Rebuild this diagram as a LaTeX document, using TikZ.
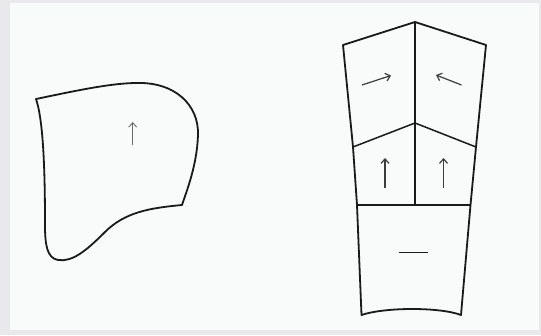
\documentclass[tikz,border=0pt]{standalone}
\usepackage{tikz}
\usetikzlibrary{arrows.meta}
\usepackage{xcolor}

\definecolor{frame}{HTML}{E9E9EB}
\definecolor{sheet}{HTML}{F9FAFA}
\definecolor{ink}{HTML}{1A1A1A}

\begin{document}
\begin{tikzpicture}[x=1pt, y=-1pt,
    piece/.style={draw=ink, line width=1.8pt, line join=round},
    seam/.style={draw=ink, line width=1.5pt},
    grain/.style={draw=ink!85, line width=1.2pt, -{Straight Barb[length=4.5pt, width=8pt]}}]
        % background
        \fill[frame] (0,0) rectangle (541,335);
        \fill[sheet] (10,3) rectangle (539,330);
        \useasboundingbox (0,0) rectangle (541,335);

        % left piece
        \draw[piece] (36,99) .. controls (70,92) and (110,83) .. (137,83)
            .. controls (175,82) and (199,105) .. (198,135)
            .. controls (197,165) and (187,190) .. (182,205)
            .. controls (150,208) and (125,212) .. (105,232)
            .. controls (85,252) and (72,262) .. (58,260)
            .. controls (47,258) and (45,245) .. (45,225)
            .. controls (45,180) and (44,122) .. cycle;
        \draw[grain, draw=ink!65, line width=0.9pt] (132.7,145) -- (132.7,122);

        % right piece
        \coordinate (T) at (415,22);
        \coordinate (TL) at (343,45);
        \coordinate (TR) at (486,45);
        \coordinate (M) at (415,123);
        \coordinate (ML) at (353,147);
        \coordinate (MR) at (476,147);
        \coordinate (HL) at (357,205);
        \coordinate (H) at (415,205);
        \coordinate (HR) at (470.5,205);
        \coordinate (BL) at (361.5,315);
        \coordinate (BR) at (461,315);

        \draw[piece] (T) -- (TR) -- (MR) -- (HR) -- (BR)
            .. controls (440,307) and (385,307) .. (BL)
            -- (HL) -- (ML) -- (TL) -- cycle;
        \draw[seam] (T) -- (M) -- (H);
        \draw[seam] (ML) -- (M) -- (MR);
        \draw[seam] (HL) -- (HR);

        \draw[grain] (362,85) -- (391,75.5);
        \draw[grain] (461.5,85) -- (436,75);
        \draw[grain] (385,188) -- (385,158);
        \draw[grain] (443.5,188) -- (443.5,158);
        \draw[seam, line width=1.3pt] (398.5,252.7) -- (427.5,252.7);
\end{tikzpicture}
\end{document}
